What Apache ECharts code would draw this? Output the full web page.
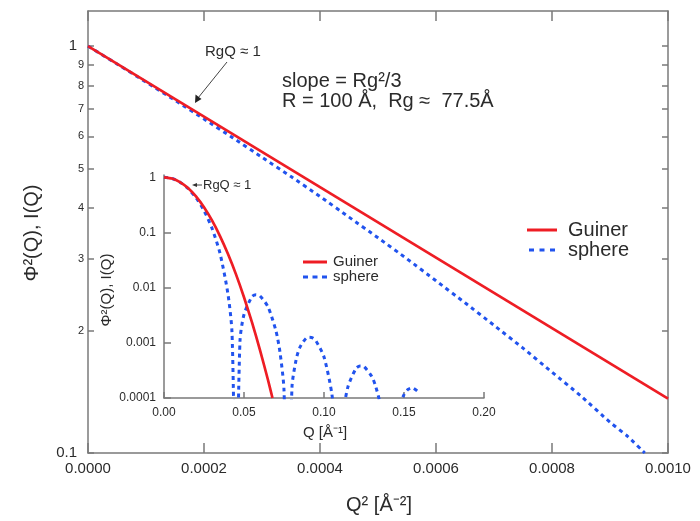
<!DOCTYPE html>
<html>
<head>
<meta charset="utf-8">
<script src="https://cdn.jsdelivr.net/npm/echarts@6/dist/echarts.min.js"></script>
<style>
  html, body { margin: 0; padding: 0; background: #ffffff; }
  #chart { width: 700px; height: 521px; }
</style>
</head>
<body>
<div id="chart"></div>
<script>
// ---- Main panel: Guinier law vs. sphere form factor, plotted against Q^2 ----
const mainXTicks = [0, 0.0002, 0.0004, 0.0006, 0.0008, 0.0010];
const mainYTicks = [0.1, 0.2, 0.3, 0.4, 0.5, 0.6, 0.7, 0.8, 0.9, 1];

const guinierQ2 = [0, 0.0010];
const guinierI  = [1, 0.136];

const sphereQ2 = [0, 0.00005, 0.0001, 0.00015, 0.0002, 0.00025, 0.0003, 0.00035,
                  0.0004, 0.00045, 0.0005, 0.00055, 0.0006, 0.00065, 0.0007,
                  0.00075, 0.0008, 0.00085, 0.0009, 0.00093, 0.00096];
const sphereI  = [1, 0.904, 0.816, 0.736, 0.662, 0.595, 0.533, 0.478,
                  0.427, 0.380, 0.338, 0.300, 0.265, 0.234, 0.206,
                  0.181, 0.158, 0.138, 0.119, 0.110, 0.100];

// ---- Inset: the same two curves against Q ----
const insetXTicks = [0, 0.05, 0.10, 0.15, 0.20];
const insetYTicks = [0.0001, 0.001, 0.01, 0.1, 1];
const insetYLabels = ['0.0001', '0.001', '0.01', '0.1', '1'];

const insetGuinierQ = [0, 0.005, 0.01, 0.015, 0.02, 0.025, 0.03, 0.035, 0.04,
                       0.045, 0.05, 0.055, 0.06, 0.065, 0.0678];
const insetGuinierI = [1, 0.951, 0.819, 0.637, 0.449, 0.286, 0.165, 0.0861, 0.0406,
                       0.0174, 0.0067, 0.00234, 0.00074, 0.000212, 0.0001];

const insetSphereQ = [0, 0.005, 0.01, 0.015, 0.02, 0.025, 0.03, 0.035, 0.04, 0.0425,
                      0.045, 0.0475, 0.05, 0.055, 0.0575, 0.06, 0.065, 0.07, 0.0725,
                      0.075, 0.0773, 0.08, 0.0825, 0.085, 0.09, 0.0925, 0.095, 0.10,
                      0.105, 0.1075, 0.109, 0.11, 0.1125, 0.115, 0.12, 0.1225, 0.125,
                      0.13, 0.1325, 0.135, 0.14, 0.1407, 0.145, 0.1475, 0.15, 0.1525,
                      0.155, 0.16];
const insetSphereI = [1, 0.951, 0.816, 0.628, 0.427, 0.249, 0.119, 0.0419, 0.00758, 0.00153,
                      0.0000009, 0.00109, 0.00326, 0.00689, 0.00742, 0.00704, 0.00449, 0.00163, 0.000673,
                      0.00014, 0.0000001, 0.000159, 0.000482, 0.000835, 0.00126, 0.00124, 0.00108, 0.000554,
                      0.000114, 0.0000157, 0.0000001, 0.0000056, 0.0000639, 0.000161, 0.000343, 0.000381, 0.000371,
                      0.000241, 0.000155, 0.0000777, 0.000001, 0.0000001, 0.0000358, 0.0000757, 0.000115, 0.000143,
                      0.000153, 0.000121];

const FONT = '"Liberation Sans", Arial, Helvetica, sans-serif';
const RED = '#ee1d24';
const BLUE = '#2153ee';
const AXIS = '#7a7a7a';
const TEXT = '#2b2b2b';

const zip = (xs, ys) => xs.map((x, i) => [x, ys[i]]);

const frameLine = { show: true, onZero: false, lineStyle: { color: AXIS, width: 1.5 } };
const tickIn = (len, extra) => Object.assign({ show: true, inside: true, length: len,
  lineStyle: { color: AXIS, width: 1.5 } }, extra || {});

const mainYLabel = v => {
  const r = Math.round(v * 10);
  if (r === 10) return '{big|1}';
  if (r === 1) return '{big|0.1}';
  return '{small|' + r + '}';
};

const redLine = { color: RED, width: 2.7 };
const blueLine = { color: BLUE, width: 3, type: [4, 4], cap: 'butt' };

// legend keys: solid bar and three dashes
const solidKey = w => 'path://M0,0h' + w + 'v3h-' + w + 'z';
const dashKey = (d, g) => 'path://M0,0h' + d + 'v3h-' + d + 'z' +
  'M' + (d + g) + ',0h' + d + 'v3h-' + d + 'z' +
  'M' + (2 * (d + g)) + ',0h' + d + 'v3h-' + d + 'z';

const option = {
  animation: false,
  backgroundColor: '#ffffff',
  textStyle: { fontFamily: FONT, color: TEXT },
  grid: [
    { left: 88, top: 11, width: 580, height: 442 },
    { left: 164, top: 175, width: 320, height: 223 }
  ],
  xAxis: [
    { gridIndex: 0, type: 'value', min: 0, max: 0.001, interval: 0.0002,
      axisLine: frameLine, axisTick: tickIn(10), splitLine: { show: false },
      axisLabel: { fontSize: 15, color: TEXT, fontFamily: FONT, margin: 8,
                   customValues: mainXTicks, formatter: v => v.toFixed(4) } },
    { gridIndex: 0, type: 'value', position: 'top', min: 0, max: 0.001, interval: 0.0002,
      axisLine: frameLine, axisTick: tickIn(10), splitLine: { show: false },
      axisLabel: { show: false } },
    { gridIndex: 1, type: 'value', min: 0, max: 0.2, interval: 0.05,
      axisLine: frameLine, axisTick: tickIn(6), splitLine: { show: false },
      axisLabel: { fontSize: 12, color: TEXT, fontFamily: FONT, margin: 9,
                   customValues: insetXTicks, formatter: v => v.toFixed(2) } }
  ],
  yAxis: [
    { gridIndex: 0, type: 'log', logBase: 10, min: 0.1, max: 1.22,
      axisLine: frameLine, axisTick: tickIn(6, { customValues: mainYTicks }),
      splitLine: { show: false }, minorTick: { show: false },
      axisLabel: { customValues: mainYTicks, margin: 4, formatter: mainYLabel,
        rich: {
          big: { fontSize: 15, color: TEXT, fontFamily: FONT, padding: [0, 7, 0, 0] },
          small: { fontSize: 11, color: TEXT, fontFamily: FONT }
        } } },
    { gridIndex: 0, type: 'log', logBase: 10, min: 0.1, max: 1.22, position: 'right',
      axisLine: frameLine, axisTick: tickIn(6, { customValues: mainYTicks }),
      splitLine: { show: false }, minorTick: { show: false },
      axisLabel: { show: false } },
    { gridIndex: 1, type: 'log', logBase: 10, min: 0.0001, max: 1.1,
      axisLine: frameLine, axisTick: tickIn(7, { customValues: insetYTicks }),
      splitLine: { show: false }, minorTick: { show: false },
      axisLabel: { customValues: insetYTicks, fontSize: 12, color: TEXT, fontFamily: FONT, margin: 8,
        formatter: v => insetYLabels[Math.round(Math.log10(v)) + 4] } }
  ],
  legend: [
    { orient: 'vertical', left: 527, top: 220, padding: 0, itemWidth: 30, itemHeight: 3, itemGap: 0,
      selectedMode: false,
      data: [{ name: 'Guiner', icon: solidKey(30) }, { name: 'sphere', icon: dashKey(5, 5.5) }],
      textStyle: { fontSize: 20, lineHeight: 20, color: TEXT, fontFamily: FONT, padding: [0, 0, 0, 6] } },
    { orient: 'vertical', left: 303, top: 254.5, padding: 0, itemWidth: 24, itemHeight: 3, itemGap: 0,
      selectedMode: false,
      data: [{ name: 'Guiner', icon: solidKey(24) }, { name: 'sphere', icon: dashKey(5, 4.5) }],
      textStyle: { fontSize: 15, lineHeight: 15, color: TEXT, fontFamily: FONT, padding: [0, 0, 0, 1] } }
  ],
  series: [
    { name: 'Guiner', type: 'line', xAxisIndex: 0, yAxisIndex: 0, symbol: 'none',
      data: zip(guinierQ2, guinierI), lineStyle: redLine, itemStyle: { color: RED }, z: 3 },
    { name: 'sphere', type: 'line', xAxisIndex: 0, yAxisIndex: 0, symbol: 'none', smooth: 0.2,
      data: zip(sphereQ2, sphereI), lineStyle: blueLine, itemStyle: { color: BLUE }, z: 2 },
    { name: 'Guiner', type: 'line', xAxisIndex: 2, yAxisIndex: 2, symbol: 'none', smooth: 0.2,
      data: zip(insetGuinierQ, insetGuinierI), lineStyle: redLine, itemStyle: { color: RED }, z: 3 },
    { name: 'sphere', type: 'line', xAxisIndex: 2, yAxisIndex: 2, symbol: 'none', smooth: 0.25,
      data: zip(insetSphereQ, insetSphereI), lineStyle: blueLine, itemStyle: { color: BLUE }, z: 2 }
  ],
  graphic: [
    // axis titles
    { type: 'text', x: 32, y: 233, rotation: Math.PI / 2,
      style: { text: 'Φ²(Q), I(Q)', font: '20px ' + FONT, fill: TEXT, align: 'center', verticalAlign: 'middle' } },
    { type: 'text', x: 379, y: 505,
      style: { text: 'Q² [Å⁻²]', font: '20px ' + FONT, fill: TEXT, align: 'center', verticalAlign: 'middle' } },
    { type: 'text', x: 107, y: 290, rotation: Math.PI / 2,
      style: { text: 'Φ²(Q), I(Q)', font: '15px ' + FONT, fill: TEXT, align: 'center', verticalAlign: 'middle' } },
    { type: 'text', x: 325, y: 433,
      style: { text: 'Q [Å⁻¹]', font: '15px ' + FONT, fill: TEXT, align: 'center', verticalAlign: 'middle' } },
    // slope / size note
    { type: 'text', x: 282, y: 81,
      style: { text: 'slope = Rg²/3', font: '20px ' + FONT, fill: TEXT, align: 'left', verticalAlign: 'middle' } },
    { type: 'text', x: 282, y: 101,
      style: { text: 'R = 100 Å,  Rg ≈  77.5Å', font: '20px ' + FONT, fill: TEXT, align: 'left', verticalAlign: 'middle' } },
    // RgQ ≈ 1 marker on the main panel
    { type: 'text', x: 205, y: 52,
      style: { text: 'RgQ ≈ 1', font: '15px ' + FONT, fill: TEXT, align: 'left', verticalAlign: 'middle' } },
    { type: 'line', shape: { x1: 227, y1: 62, x2: 198, y2: 98 },
      style: { stroke: '#444', lineWidth: 1 } },
    { type: 'polygon', shape: { points: [[195, 103], [195.5, 94.5], [201.5, 99]] },
      style: { fill: '#222' } },
    // RgQ ≈ 1 marker on the inset
    { type: 'text', x: 203, y: 185,
      style: { text: 'RgQ ≈ 1', font: '13px ' + FONT, fill: TEXT, align: 'left', verticalAlign: 'middle' } },
    { type: 'line', shape: { x1: 202, y1: 185, x2: 195, y2: 185 },
      style: { stroke: '#444', lineWidth: 1 } },
    { type: 'polygon', shape: { points: [[192, 185], [197, 183], [197, 187]] },
      style: { fill: '#333' } }
  ]
};

const chart = echarts.init(document.getElementById('chart'), null, { renderer: 'canvas' });
chart.setOption(option);
</script>
</body>
</html>
